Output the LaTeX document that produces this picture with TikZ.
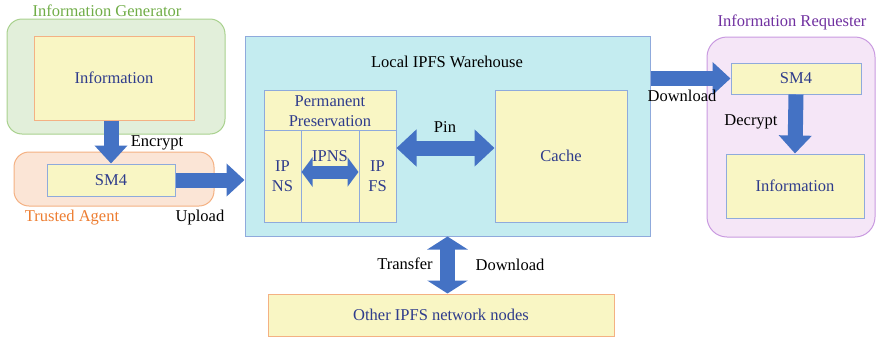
\documentclass[tikz,border=0pt]{standalone}
\usepackage{fontspec}
\setmainfont{Liberation Serif}
\usetikzlibrary{arrows.meta, positioning, calc}

\definecolor{arrowblue}{HTML}{4472C4}
\definecolor{navy}{HTML}{2F3C8C}
\definecolor{paleyellow}{HTML}{F9F6C4}
\definecolor{frameblue}{HTML}{8FAADC}
\definecolor{salmon}{HTML}{F4B183}
\definecolor{palegreen}{HTML}{E2EFDA}
\definecolor{groupgreen}{HTML}{A9D18E}
\definecolor{titlegreen}{HTML}{70AD47}
\definecolor{palepeach}{HTML}{FBE5D6}
\definecolor{titleorange}{HTML}{ED7D31}
\definecolor{palecyan}{HTML}{C4ECF0}
\definecolor{palelilac}{HTML}{F5E6F7}
\definecolor{grouplilac}{HTML}{C99AE0}
\definecolor{titlepurple}{HTML}{7030A0}

\begin{document}
\begin{tikzpicture}[x=1pt, y=-1pt, font=\fontsize{16.5}{20}\selectfont,
  group/.style={rounded corners=15pt, line width=1pt},
  box/.style={draw=frameblue, fill=paleyellow, text=navy, line width=1pt, inner sep=0pt, align=center},
  fatarrow/.style={draw=arrowblue, line width=15pt, -{Triangle[width=32pt, length=18pt]}},
  fatdouble/.style={draw=arrowblue, line width=15pt, {Triangle[width=36pt, length=20pt]}-{Triangle[width=36pt, length=20pt]}}]
\useasboundingbox (0,0) rectangle (876,338);

% Information generator
\node[group, fill=palegreen, draw=groupgreen, minimum width=218pt, minimum height=115pt] (genbox) at (116,76.5) {};
\node[text=titlegreen] (gentitle) at (107,11) {Information Generator};
\node[box, draw=salmon, minimum width=160pt, minimum height=84pt] (info1) at (114,78) {Information};

% Trusted agent
\node[group, fill=palepeach, draw=salmon, minimum width=200pt, minimum height=54pt] (agentbox) at (114,179) {};
\node[box, minimum width=128pt, minimum height=32pt] (sm4a) at (111,180) {SM4};
\node[text=titleorange] (agenttitle) at (72,218) {Trusted Agent};

% Local IPFS warehouse
\node[fill=palecyan, draw=frameblue, line width=1pt, minimum width=405pt, minimum height=200pt] (ware) at (447.5,136) {};
\node (waretitle) at (447,62) {Local IPFS Warehouse};
\node[box, minimum width=132pt, minimum height=132pt] (perm) at (330,156) {};
\node[text=navy, align=center] (permtitle) at (330,111) {Permanent\\Preservation};
\draw[frameblue, line width=1pt] (perm.west |- 0,130) -- (perm.east |- 0,130);
\node[box, minimum width=37pt, minimum height=92pt] (ipns) at (282.5,176) {IP\\NS};
\node[box, minimum width=37pt, minimum height=92pt] (ipfs) at (377.5,176) {IP\\FS};
\node[text=navy] (ipnslabel) at (330,156) {IPNS};
\node[box, minimum width=132pt, minimum height=132pt] (cache) at (561,156) {Cache};
\node (pinlabel) at (445,127) {Pin};

% Information requester
\node[group, rounded corners=20pt, fill=palelilac, draw=grouplilac, minimum width=168pt, minimum height=200pt] (reqbox) at (791,137) {};
\node[text=titlepurple] (reqtitle) at (792,22) {Information Requester};
\node[box, minimum width=130pt, minimum height=31pt] (sm4b) at (796,78.5) {SM4};
\node[box, minimum width=138pt, minimum height=64pt] (info2) at (795,186) {Information};

% Other nodes
\node[box, draw=salmon, minimum width=346pt, minimum height=42pt] (others) at (441,315) {Other IPFS network nodes};

% Arrows
\draw[fatarrow] (info1.south -| sm4a.north) -- (sm4a.north);
\draw[fatarrow] (sm4a.east) -- (ware.west |- sm4a.east);
\draw[fatarrow] (ware.east |- sm4b.west) -- (sm4b.west);
\draw[fatarrow] (sm4b.south) -- (info2.north);
\draw[fatdouble] ([yshift=8pt]perm.east) -- ([yshift=8pt]cache.west);
\draw[draw=arrowblue, line width=13pt, {Triangle[width=29pt, length=11pt]}-{Triangle[width=29pt, length=11pt]}] ([yshift=4pt]ipns.east) -- ([yshift=4pt]ipfs.west);
\draw[draw=arrowblue, line width=15pt, {Triangle[width=40pt, length=13pt]}-{Triangle[width=40pt, length=13pt]}] (ware.south) -- (ware.south |- others.north);

% Arrow labels
\node (encrypt) at (157,143) {Encrypt};
\node (upload) at (200,218) {Upload};
\node (download1) at (682,96) {Download};
\node (decrypt) at (751,122) {Decrypt};
\node (transfer) at (405,264) {Transfer};
\node (download2) at (510,265) {Download};
\end{tikzpicture}
\end{document}
